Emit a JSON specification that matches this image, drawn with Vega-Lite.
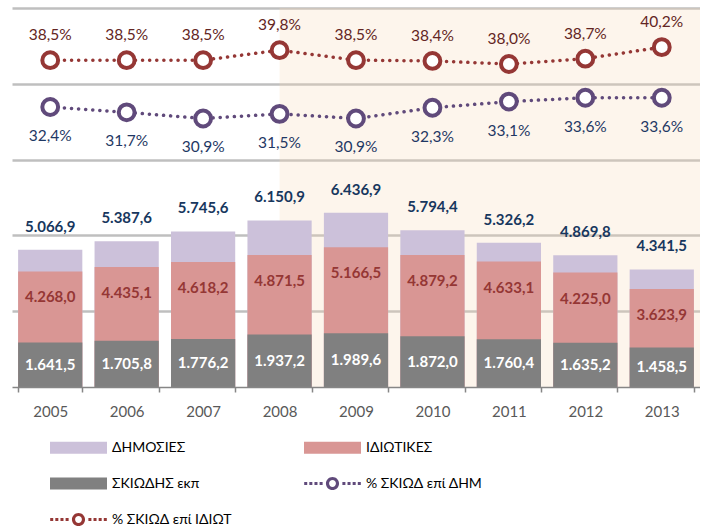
{
  "$schema": "https://vega.github.io/schema/vega-lite/v6.json",
  "width": 688,
  "height": 379,
  "padding": {"left": 12, "top": 8, "right": 0, "bottom": 0},
  "background": "white",
  "config": {
    "view": {"stroke": null},
    "locale": {"number": {"decimal": ",", "thousands": ".", "grouping": [3], "currency": ["", " €"], "percent": "%"}},
    "text": {"font": "Lato"}
  },
  "data": {
    "values": [
      {"year": "2005", "total": 5066.9, "priv": 4268.0, "shadow": 1641.5, "pctPriv": 0.385, "pctPub": 0.324},
      {"year": "2006", "total": 5387.6, "priv": 4435.1, "shadow": 1705.8, "pctPriv": 0.385, "pctPub": 0.317},
      {"year": "2007", "total": 5745.6, "priv": 4618.2, "shadow": 1776.2, "pctPriv": 0.385, "pctPub": 0.309},
      {"year": "2008", "total": 6150.9, "priv": 4871.5, "shadow": 1937.2, "pctPriv": 0.398, "pctPub": 0.315},
      {"year": "2009", "total": 6436.9, "priv": 5166.5, "shadow": 1989.6, "pctPriv": 0.385, "pctPub": 0.309},
      {"year": "2010", "total": 5794.4, "priv": 4879.2, "shadow": 1872.0, "pctPriv": 0.384, "pctPub": 0.323},
      {"year": "2011", "total": 5326.2, "priv": 4633.1, "shadow": 1760.4, "pctPriv": 0.380, "pctPub": 0.331},
      {"year": "2012", "total": 4869.8, "priv": 4225.0, "shadow": 1635.2, "pctPriv": 0.387, "pctPub": 0.336},
      {"year": "2013", "total": 4341.5, "priv": 3623.9, "shadow": 1458.5, "pctPriv": 0.402, "pctPub": 0.336}
    ]
  },
  "encoding": {
    "x": {
      "field": "year", "type": "ordinal",
      "scale": {"domain": ["2005","2006","2007","2008","2009","2010","2011","2012","2013"], "paddingInner": 0.16, "paddingOuter": 0.08},
      "axis": {
        "title": null, "labelAngle": 0, "tickBand": "extent",
        "domainColor": "#868686", "domainWidth": 1.5, "tickColor": "#868686", "tickWidth": 1.5, "tickSize": 5,
        "labelColor": "#595959", "labelFont": "Lato", "labelFontSize": 15, "labelPadding": 12
      }
    }
  },
  "layer": [
    {
      "data": {"values": [{"from": "2008"}]},
      "mark": {"type": "rect", "fill": "#F8D6B4", "opacity": 0.25},
      "encoding": {
        "x": {"field": "from", "type": "ordinal", "bandPosition": 0.5},
        "x2": {"value": "width"},
        "y": {"value": 0},
        "y2": {"value": "height"}
      }
    },
    {
      "encoding": {
        "y": {
          "type": "quantitative",
          "scale": {"domain": [0, 14000], "nice": false, "zero": true},
          "axis": {"title": null, "labels": false, "ticks": false, "domain": false, "grid": true, "values": [2800, 5600, 8400, 11200, 14000], "gridColor": "#BFBFBF", "gridWidth": 2.5}
        }
      },
      "layer": [
        {
          "mark": {"type": "bar"},
          "encoding": {
            "y": {"field": "total", "type": "quantitative"},
            "color": {
              "datum": "ΔΗΜΟΣΙΕΣ", "type": "nominal",
              "scale": {
                "domain": ["ΔΗΜΟΣΙΕΣ", "ΙΔΙΩΤΙΚΕΣ", "ΣΚΙΩΔΗΣ εκπ", "% ΣΚΙΩΔ επί ΔΗΜ", "% ΣΚΙΩΔ επί ΙΔΙΩΤ"],
                "range": ["#CCC1DA", "#D99694", "#808080", "#604A7B", "#953735"]
              },
              "legend": {
                "title": null, "orient": "none", "legendX": 38, "legendY": 411,
                "direction": "horizontal", "columns": 2, "columnPadding": 72, "rowPadding": -10, "padding": 0,
                "symbolSize": 3249, "symbolStrokeWidth": 0, "labelOffset": 5,
                "labelFont": "Lato", "labelFontSize": 14, "labelColor": "#000000", "labelLimit": 300,
                "encode": {
                  "symbols": {
                    "update": {
                      "shape": [
                        {"test": "indexof(datum.value, '%') >= 0", "value": "M-0.993,-0.053h0.106v0.106h-0.106z M-0.813,-0.053h0.106v0.106h-0.106z M-0.633,-0.053h0.106v0.106h-0.106z M-0.453,-0.053h0.106v0.106h-0.106z M0.347,-0.053h0.106v0.106h-0.106z M0.527,-0.053h0.106v0.106h-0.106z M0.707,-0.053h0.106v0.106h-0.106z M0.887,-0.053h0.106v0.106h-0.106z M0.23,0A0.23,0.23,0,1,1,-0.23,0A0.23,0.23,0,1,1,0.23,0Z M0.12,0A0.12,0.12,0,1,0,-0.12,0A0.12,0.12,0,1,0,0.12,0Z"},
                        {"value": "M-1,-0.21H1V0.21H-1Z"}
                      ],
                      "fill": {"scale": "color", "field": "value"},
                      "stroke": {"value": "transparent"},
                      "strokeWidth": {"value": 0},
                      "size": {"value": 3249},
                      "opacity": {"value": 1}
                    }
                  }
                }
              }
            }
          }
        },
        {
          "mark": {"type": "bar"},
          "encoding": {
            "y": {"field": "priv", "type": "quantitative"},
            "color": {"datum": "ΙΔΙΩΤΙΚΕΣ", "type": "nominal"}
          }
        },
        {
          "mark": {"type": "bar"},
          "encoding": {
            "y": {"field": "shadow", "type": "quantitative"},
            "color": {"datum": "ΣΚΙΩΔΗΣ εκπ", "type": "nominal"}
          }
        },
        {
          "mark": {"type": "text", "fontWeight": "bold", "fontSize": 15, "color": "#17375E", "dy": -23},
          "encoding": {
            "y": {"field": "total", "type": "quantitative"},
            "text": {"field": "total", "type": "quantitative", "format": ",.1f"}
          }
        },
        {
          "mark": {"type": "text", "fontWeight": "bold", "fontSize": 15, "color": "#953735", "dy": 26},
          "encoding": {
            "y": {"field": "priv", "type": "quantitative"},
            "text": {"field": "priv", "type": "quantitative", "format": ",.1f"}
          }
        },
        {
          "mark": {"type": "text", "fontWeight": "bold", "fontSize": 15, "color": "#FFFFFF"},
          "encoding": {
            "y": {"field": "shadow", "type": "quantitative", "stack": "zero", "bandPosition": 0.5},
            "detail": {"field": "year", "type": "nominal"},
            "text": {"field": "shadow", "type": "quantitative", "format": ",.1f"}
          }
        }
      ]
    },
    {
      "encoding": {
        "y": {
          "type": "quantitative",
          "scale": {"domain": [-0.041, 0.453], "nice": false, "zero": false},
          "axis": null
        }
      },
      "layer": [
        {
          "mark": {"type": "line", "stroke": "#604A7B", "strokeWidth": 3.5, "strokeDash": [0.1, 7], "strokeCap": "round"},
          "encoding": {"y": {"field": "pctPub", "type": "quantitative"}}
        },
        {
          "mark": {"type": "point", "shape": "circle", "filled": true, "fill": "white", "stroke": "#604A7B", "strokeWidth": 4, "size": 250, "opacity": 1},
          "encoding": {"y": {"field": "pctPub", "type": "quantitative"}}
        },
        {
          "mark": {"type": "text", "fontSize": 15.5, "color": "#1F3864", "dy": 29},
          "encoding": {
            "y": {"field": "pctPub", "type": "quantitative"},
            "text": {"field": "pctPub", "type": "quantitative", "format": ".1%"}
          }
        },
        {
          "mark": {"type": "line", "stroke": "#953735", "strokeWidth": 3.5, "strokeDash": [0.1, 7], "strokeCap": "round"},
          "encoding": {"y": {"field": "pctPriv", "type": "quantitative"}}
        },
        {
          "mark": {"type": "point", "shape": "circle", "filled": true, "fill": "white", "stroke": "#953735", "strokeWidth": 4, "size": 250, "opacity": 1},
          "encoding": {"y": {"field": "pctPriv", "type": "quantitative"}}
        },
        {
          "mark": {"type": "text", "fontSize": 15.5, "color": "#632523", "dy": -25},
          "encoding": {
            "y": {"field": "pctPriv", "type": "quantitative"},
            "text": {"field": "pctPriv", "type": "quantitative", "format": ".1%"}
          }
        }
      ],
      "resolve": {"scale": {"y": "shared"}}
    }
  ],
  "resolve": {"scale": {"y": "independent"}}
}
